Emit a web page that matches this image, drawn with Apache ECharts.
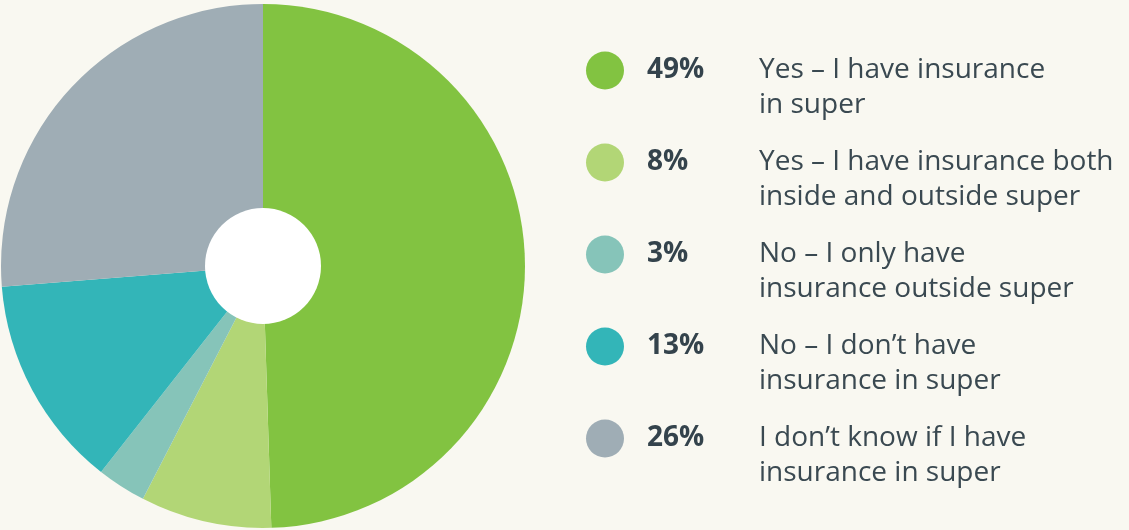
<!DOCTYPE html>
<html><head><meta charset="utf-8">
<script src="https://cdn.jsdelivr.net/npm/echarts@6/dist/echarts.min.js"></script>
<style>html,body{margin:0;padding:0;background:#f9f8f1;}#c{width:1129px;height:530px;}</style>
</head><body><div id="c"></div>
<script>
const categories = ["Yes – I have insurance\nin super","Yes – I have insurance both\ninside and outside super","No – I only have\ninsurance outside super","No – I don’t have\ninsurance in super","I don’t know if I have\ninsurance in super"];
const values = [49, 8, 3, 13, 26];
const percentLabels = ["49%","8%","3%","13%","26%"];
const colors = ["#82c341","#b2d676","#86c4b9","#33b5b8","#9fadb5"];

const chart = echarts.init(document.getElementById('c'));
const data = categories.map((n,i)=>({name:n, value:values[i], itemStyle:{color:colors[i]}}));
chart.setOption({
  backgroundColor:'#f9f8f1',
  animation:false,
  legend:{
    orient:'vertical', left:581, top:13,
    icon:'circle', itemWidth:38, itemHeight:38, itemGap:-13,
    data:categories,
    selectedMode:false,
    textStyle:{fontFamily:'Open Sans', fontSize:28, lineHeight:35, color:'#34434c',
      rich:{
        b:{fontSize:28, lineHeight:35},
        p:{fontFamily:'Open Sans', fontWeight:'bold', fontSize:28, lineHeight:35, width:112, color:'#34434c', padding:[0,0,0,18]},
        t:{fontFamily:'Open Sans', fontSize:28, lineHeight:35, color:'#3a4951'}
      }},
    formatter:function(name){
      const i = categories.indexOf(name);
      const lines = name.split('\n');
      return '{b| }\n{p|'+percentLabels[i]+'}{t|'+lines[0]+'}\n{p|}{t|'+lines[1]+'}';
    }
  },
  series:[
    {type:'pie', center:[263,266], radius:[0,262], startAngle:90, clockwise:true,
     label:{show:false}, labelLine:{show:false}, silent:true,
     itemStyle:{borderWidth:0}, data:data},
    {type:'pie', center:[263,266], radius:[0,58], silent:true, label:{show:false},
     itemStyle:{color:'#ffffff'}, data:[{name:'hole', value:1}], tooltip:{show:false}}
  ]
});
</script></body></html>
